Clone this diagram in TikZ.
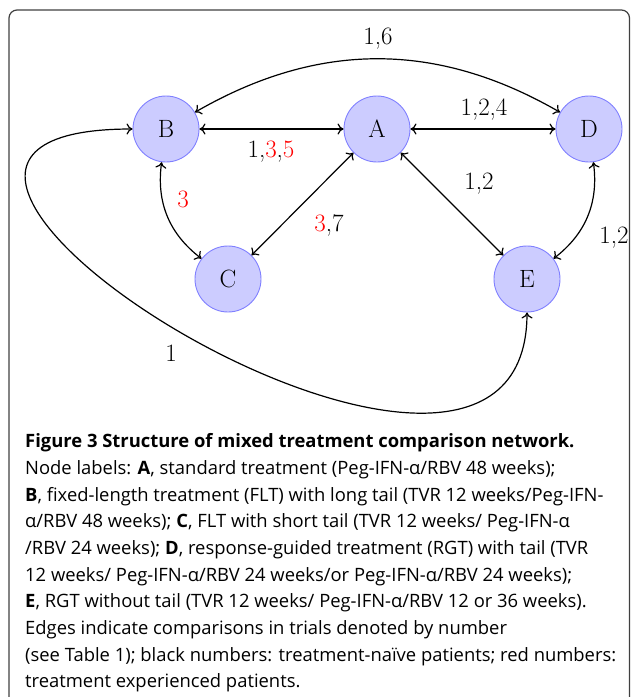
\documentclass[tikz,border=0pt]{standalone}
\usepackage{fontspec}
\newfontfamily\capfont{Open Sans}
\usetikzlibrary{arrows.meta}
\begin{document}
\begin{tikzpicture}[x=1pt,y=-1pt,
  vert/.style={circle, minimum size=66pt, inner sep=0pt, fill=blue!20, draw=blue!50, line width=0.9pt, font=\fontsize{25}{30}\selectfont},
  conn/.style={{To[length=6pt,width=11pt]}-{To[length=6pt,width=11pt]}, line width=1.2pt},
  lab/.style={anchor=base, inner sep=0pt, font=\fontsize{25}{30}\selectfont},
  capline/.style={anchor=base west, inner sep=0pt, font=\capfont\fontsize{18.4}{22}\selectfont}
]
\useasboundingbox (0,0) rectangle (630,697);
\draw[rounded corners=8pt, line width=1.2pt, black!75] (9,10) rectangle (629.5,760);

\node[vert] (A) at (377,129) {A};
\node[vert] (B) at (166,129) {B};
\node[vert] (C) at (228,279) {C};
\node[vert] (D) at (589,129) {D};
\node[vert] (E) at (527,279) {E};

\draw[conn] (B) -- (A);
\draw[conn] (A) -- (D);
\draw[conn] (A) -- (C);
\draw[conn] (A) -- (E);
\draw[conn] (B) to[bend left=30] (D);
\draw[conn] (B) to[bend right=30] (C);
\draw[conn] (D) to[bend left=30] (E);
\draw[conn] (B.west) .. controls +(-385,0) and +(0,305) .. (E.south);

\node[lab] (l16) at (378,44) {1,6};
\node[lab] (l124) at (484,115) {1,2,4};
\node[lab] (l135) at (271,157) {1,\textcolor{red}{3},\textcolor{red}{5}};
\node[lab] (l3) at (183,207) {\textcolor{red}{3}};
\node[lab] (l37) at (329,231) {\textcolor{red}{3},7};
\node[lab] (l12a) at (479,189) {1,2};
\node[lab] (l12b) at (614,243) {1,2};
\node[lab] (l1) at (171,361) {1};

\node[capline] (c1) at (25,447.7) {\bfseries Figure 3 Structure of mixed treatment comparison network.};
\node[capline] (c2) at (25,474.3) {Node labels: \textbf{A}, standard treatment (Peg-IFN-α/RBV 48 weeks);};
\node[capline] (c3) at (25,501.0) {\textbf{B}, fixed-length treatment (FLT) with long tail (TVR 12 weeks/Peg-IFN-};
\node[capline] (c4) at (25,527.7) {α/RBV 48 weeks); \textbf{C}, FLT with short tail (TVR 12 weeks/ Peg-IFN-α};
\node[capline] (c5) at (25,554.3) {/RBV 24 weeks); \textbf{D}, response-guided treatment (RGT) with tail (TVR};
\node[capline] (c6) at (25,581.0) {12 weeks/ Peg-IFN-α/RBV 24 weeks/or Peg-IFN-α/RBV 24 weeks);};
\node[capline] (c7) at (25,607.7) {\textbf{E}, RGT without tail (TVR 12 weeks/ Peg-IFN-α/RBV 12 or 36 weeks).};
\node[capline] (c8) at (25,634.3) {Edges indicate comparisons in trials denoted by number};
\node[capline] (c9) at (25,661.0) {(see Table 1); black numbers: treatment-naïve patients; red numbers:};
\node[capline] (c10) at (25,687.7) {treatment experienced patients.};
\end{tikzpicture}
\end{document}
